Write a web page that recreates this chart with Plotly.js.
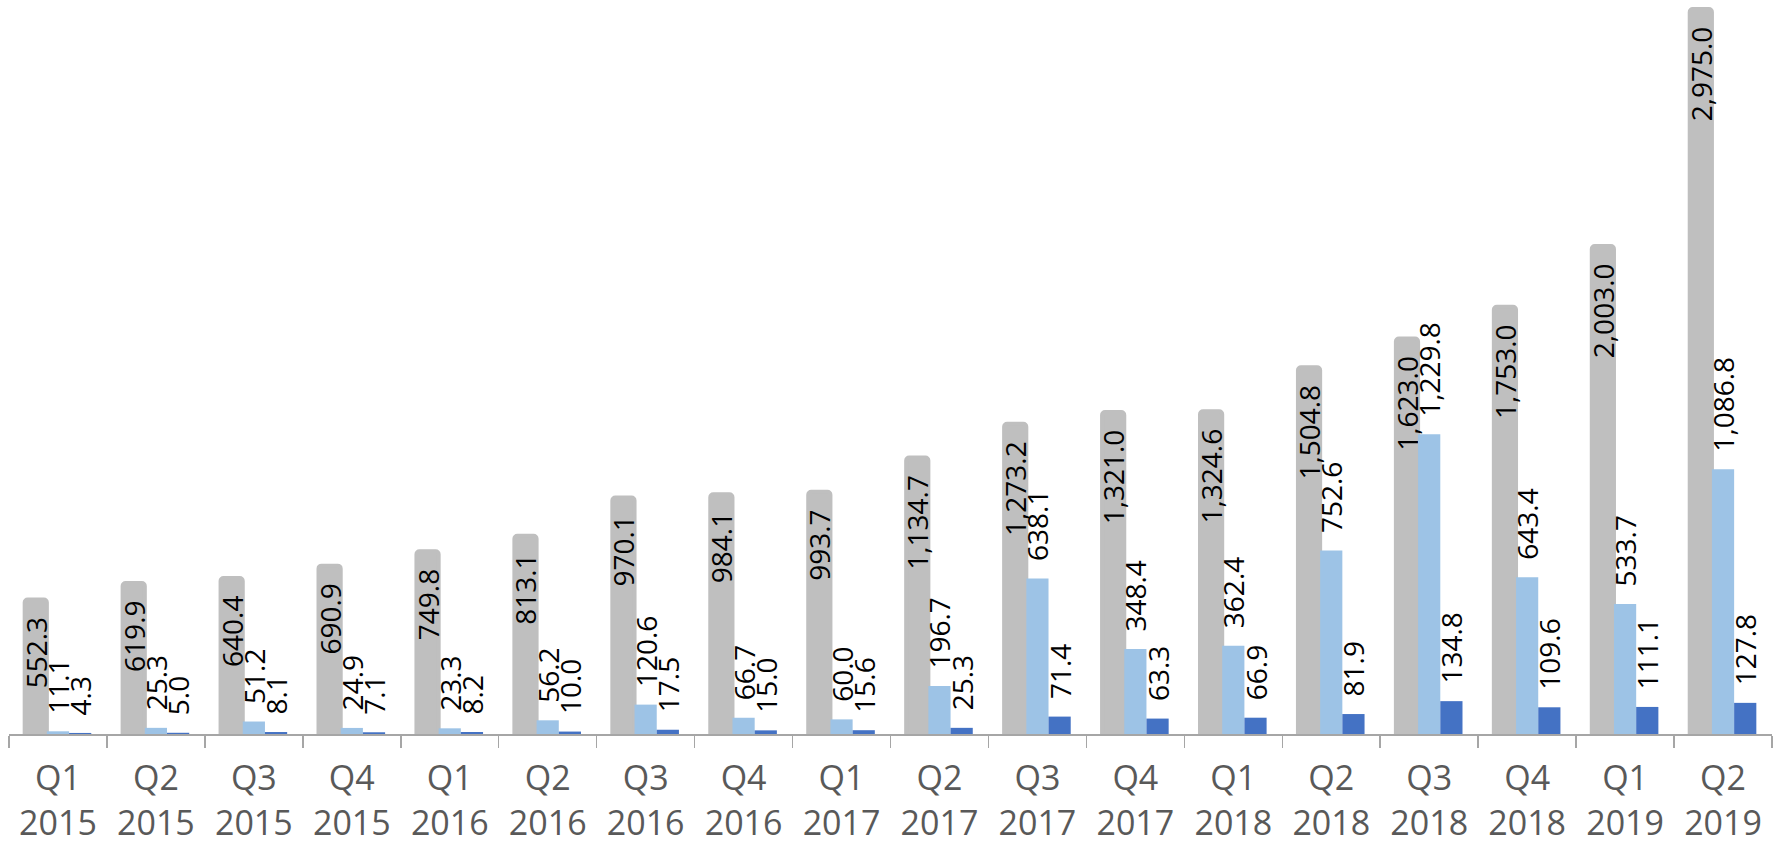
<!DOCTYPE html>
<html>
<head>
<meta charset="utf-8">
<script src="https://cdn.plot.ly/plotly-3.0.1.min.js"></script>
<style>html,body{margin:0;padding:0;background:#fff;}#chart{width:1783px;height:852px;}</style>
</head>
<body>
<div id="chart"></div>
<script>
const quarters = ["Q1","Q2","Q3","Q4","Q1","Q2","Q3","Q4","Q1","Q2","Q3","Q4","Q1","Q2","Q3","Q4","Q1","Q2"];
const years = ["2015","2015","2015","2015","2016","2016","2016","2016","2017","2017","2017","2017","2018","2018","2018","2018","2019","2019"];
const seriesGray = [552.3, 619.9, 640.4, 690.9, 749.8, 813.1, 970.1, 984.1, 993.7, 1134.7, 1273.2, 1321.0, 1324.6, 1504.8, 1623.0, 1753.0, 2003.0, 2975.0];
const seriesLight = [11.1, 25.3, 51.2, 24.9, 23.3, 56.2, 120.6, 66.7, 60.0, 196.7, 638.1, 348.4, 362.4, 752.6, 1229.8, 643.4, 533.7, 1086.8];
const seriesDark = [4.3, 5.0, 8.1, 7.1, 8.2, 10.0, 17.5, 15.0, 15.6, 25.3, 71.4, 63.3, 66.9, 81.9, 134.8, 109.6, 111.1, 127.8];

const categories = quarters.map((q, i) => q + "<br>" + years[i]);
const NB = "\u00a0";
const labelFont = {family: "Open Sans, sans-serif", size: 28, color: "#000000"};

const traces = [
  {
    type: "bar", x: categories, y: seriesGray, name: "gray",
    marker: {color: "#bfbfbf", line: {color: "#bfbfbf", width: 4}, cornerradius: 3},
    texttemplate: "%{y:,.1f}" + NB + NB, textposition: "inside", insidetextanchor: "end",
    textangle: -90, constraintext: "none", textfont: labelFont, cliponaxis: false, hoverinfo: "skip"
  },
  {
    type: "bar", x: categories, y: seriesLight, name: "light",
    marker: {color: "#9dc3e6"},
    texttemplate: NB + NB + "%{y:,.1f}", textposition: "outside",
    textangle: -90, constraintext: "none", textfont: labelFont, cliponaxis: false, hoverinfo: "skip"
  },
  {
    type: "bar", x: categories, y: seriesDark, name: "dark",
    marker: {color: "#4472c4"},
    texttemplate: NB + NB + "%{y:,.1f}", textposition: "outside",
    textangle: -90, constraintext: "none", textfont: labelFont, cliponaxis: false, hoverinfo: "skip"
  }
];

const layout = {
  width: 1783, height: 852,
  margin: {l: 9, r: 11, t: 3, b: 118},
  paper_bgcolor: "#ffffff", plot_bgcolor: "#ffffff",
  barmode: "group", bargap: 0.32, bargroupgap: 0,
  showlegend: false,
  xaxis: {
    type: "category", showline: true, linecolor: "#a6a6a6", linewidth: 1.5,
    ticks: "outside", tickson: "boundaries", ticklen: 12, tickcolor: "#a6a6a6", tickwidth: 1.5,
    ticklabelstandoff: 14,
    tickfont: {family: "Open Sans, sans-serif", size: 34, color: "#595959"},
    showgrid: false, zeroline: false, fixedrange: true
  },
  yaxis: {
    range: [0, 3000], visible: false, showgrid: false, zeroline: false, fixedrange: true
  }
};

Plotly.newPlot("chart", traces, layout, {displayModeBar: false, staticPlot: true});
</script>
</body>
</html>
